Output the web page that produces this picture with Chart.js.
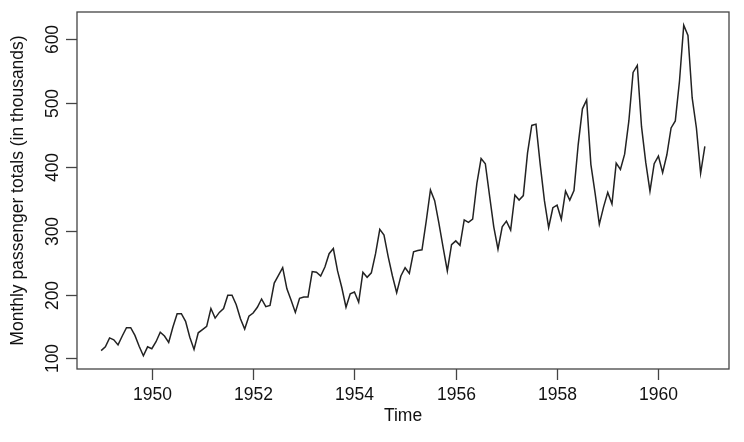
<!DOCTYPE html>
<html>
<head>
<meta charset="utf-8">
<script src="https://cdn.jsdelivr.net/npm/chart.js@4.4.1/dist/chart.umd.min.js"></script>
<style>
  html, body { margin: 0; padding: 0; background: #fff; }
  #wrap { width: 744px; height: 442px; }
</style>
</head>
<body>
<div id="wrap"><canvas id="chart" width="744" height="442"></canvas></div>
<script>
// monthly totals, one row per year (Jan..Dec)
const startYear = 1949;
const passengers = [
  112, 118, 132, 129, 121, 135, 148, 148, 136, 119, 104, 118,
  115, 126, 141, 135, 125, 149, 170, 170, 158, 133, 114, 140,
  145, 150, 178, 163, 172, 178, 199, 199, 184, 162, 146, 166,
  171, 180, 193, 181, 183, 218, 230, 242, 209, 191, 172, 194,
  196, 196, 236, 235, 229, 243, 264, 272, 237, 211, 180, 201,
  204, 188, 235, 227, 234, 264, 302, 293, 259, 229, 203, 229,
  242, 233, 267, 269, 270, 315, 364, 347, 312, 274, 237, 278,
  284, 277, 317, 313, 318, 374, 413, 405, 355, 306, 271, 306,
  315, 301, 356, 348, 355, 422, 465, 467, 404, 347, 305, 336,
  340, 318, 362, 348, 363, 435, 491, 505, 404, 359, 310, 337,
  360, 342, 406, 396, 420, 472, 548, 559, 463, 407, 362, 405,
  417, 391, 419, 461, 472, 535, 622, 606, 508, 461, 390, 432
];
const yearTicks = [1950, 1952, 1954, 1956, 1958, 1960];
const valueTicks = [100, 200, 300, 400, 500, 600];
const xTitle = 'Time';
const yTitle = 'Monthly passenger totals (in thousands)';

let points = passengers.map((v, i) => ({ x: startYear + i / 12, y: v }));

// R style 4% extension of the data range
let xs = points.map(p => p.x);
let xmin = Math.min(...xs), xmax = Math.max(...xs);
let ymin = Math.min(...passengers), ymax = Math.max(...passengers);
let xpad = (xmax - xmin) * 0.04, ypad = (ymax - ymin) * 0.04;

const font = '17.5px "Liberation Sans", Arial, sans-serif';

const rAxes = {
  id: 'rAxes',
  afterDraw(chart) {
    const ctx = chart.ctx;
    const a = chart.chartArea;
    const sx = chart.scales.x, sy = chart.scales.y;
    ctx.save();
    ctx.strokeStyle = '#444';
    ctx.lineWidth = 1.3;
    ctx.strokeRect(a.left, a.top, a.right - a.left, a.bottom - a.top);

    ctx.fillStyle = '#111';
    ctx.font = font;
    // x ticks
    ctx.textAlign = 'center';
    ctx.textBaseline = 'middle';
    yearTicks.forEach(t => {
      let px = Math.round(sx.getPixelForValue(t)) + 0.5;
      ctx.beginPath();
      ctx.moveTo(px, a.bottom);
      ctx.lineTo(px, a.bottom + 11);
      ctx.stroke();
      ctx.fillText(String(t), px, a.bottom + 26);
    });
    // y ticks, labels turned like R's default
    valueTicks.forEach(t => {
      let py = Math.round(sy.getPixelForValue(t)) + 0.5;
      ctx.beginPath();
      ctx.moveTo(a.left, py);
      ctx.lineTo(a.left - 11, py);
      ctx.stroke();
      ctx.save();
      ctx.translate(a.left - 24, py);
      ctx.rotate(-Math.PI / 2);
      ctx.fillText(String(t), 0, 0);
      ctx.restore();
    });
    // titles
    ctx.fillText(xTitle, (a.left + a.right) / 2, a.bottom + 47);
    ctx.save();
    ctx.translate(18, (a.top + a.bottom) / 2);
    ctx.rotate(-Math.PI / 2);
    ctx.fillText(yTitle, 0, 0);
    ctx.restore();
    ctx.restore();
  }
};

new Chart(document.getElementById('chart'), {
  type: 'line',
  data: {
    datasets: [{
      data: points,
      borderColor: '#222',
      borderWidth: 1.5,
      pointRadius: 0,
      tension: 0,
      fill: false
    }]
  },
  options: {
    responsive: false,
    animation: false,
    layout: { padding: { left: 77, top: 12, right: 15, bottom: 73 } },
    plugins: { legend: { display: false }, tooltip: { enabled: false } },
    scales: {
      x: { type: 'linear', display: false, min: xmin - xpad, max: xmax + xpad },
      y: { type: 'linear', display: false, min: ymin - ypad, max: ymax + ypad }
    }
  },
  plugins: [rAxes]
});
</script>
</body>
</html>
